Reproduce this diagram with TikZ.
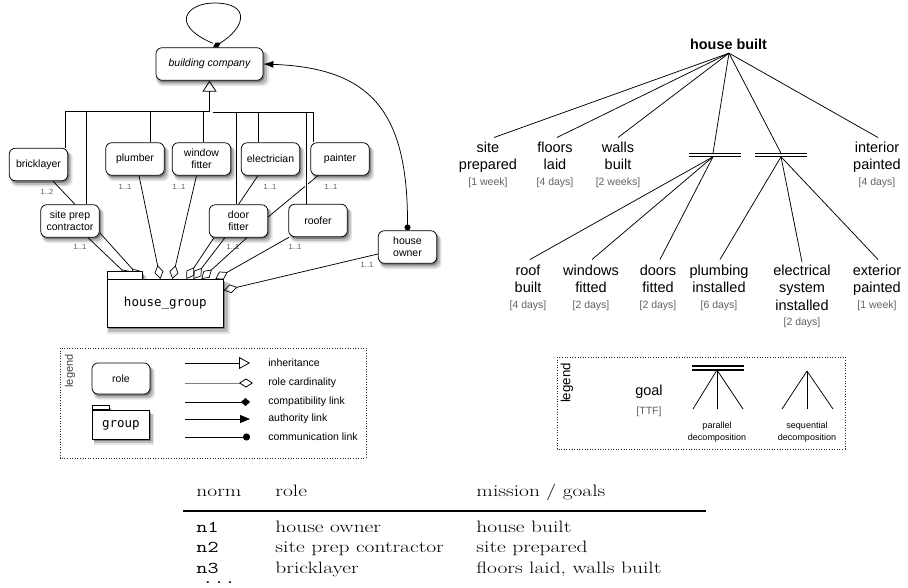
\documentclass[tikz,border=0pt]{standalone}
\usepackage{fontspec}
\newfontfamily\hv{Liberation Sans}
\newfontfamily\grpfont{DejaVu Sans Mono}
\usetikzlibrary{arrows.meta,shadows,calc}
\newcommand\setfs[2]{\fontsize{#1}{#2}\selectfont}
\definecolor{cardgray}{gray}{0.35}
\definecolor{ttfgray}{gray}{0.38}
\begin{document}
\begin{tikzpicture}[x=1pt,y=-1pt,line width=0.75pt,
  softshadow/.style={
    general shadow={fill=black,opacity=0.10,shadow xshift=3pt,shadow yshift=-4.5pt,shadow scale=1.06},
    general shadow={fill=black,opacity=0.18,shadow xshift=2.5pt,shadow yshift=-3.5pt,shadow scale=1.03},
    general shadow={fill=black,opacity=0.32,shadow xshift=1.5pt,shadow yshift=-2pt}},
  role/.style={draw,fill=white,rounded corners=6pt,align=center,inner sep=1pt,
    minimum width=58.5pt,minimum height=32.5pt,font=\hv\setfs{10.5}{12},softshadow},
  grpbody/.style={draw,fill=white,inner sep=0pt,font=\grpfont\setfs{12.5}{14},softshadow},
  grptab/.style={draw,fill=white,inner sep=0pt,softshadow},
  card/.style={font=\hv\setfs{7.5}{9},text=cardgray,inner sep=0pt},
  rolecard/.style={-{Diamond[open,length=14pt,width=9pt,line width=0.7pt]}},
  legendbox/.style={draw=black!85,line width=0.8pt,dash pattern=on 1pt off 1.6pt},
  legtext/.style={font=\hv\setfs{10.5}{12},inner sep=0pt,anchor=west},
  goal/.style={font=\hv\setfs{14.5}{17.5},align=center,anchor=north,inner sep=2pt},
  ttf/.style={font=\hv\setfs{10.5}{12},text=ttfgray,inner sep=0pt},
  decomp/.style={font=\hv\setfs{9}{12},align=center,inner sep=0pt},
  tabtext/.style={font=\rmfamily\setfs{16.5}{20},anchor=base west,inner sep=0pt,xscale=1.3},
  tabcode/.style={font=\ttfamily\setfs{16.5}{20},anchor=base west,inner sep=0pt,xscale=1.3}]
\useasboundingbox (0,0) rectangle (908,587);

% ---------------- organisational structure: roles ----------------
\node[role,minimum width=107pt,font=\hv\itshape\setfs{10.5}{12}] (bc) at (209.5,64) {building company};
\node[role] (brick) at (38.5,164.5) {bricklayer};
\node[role] (plumb) at (135,159) {plumber};
\node[role] (wfit) at (201.5,159) {window\\fitter};
\node[role] (elec) at (270.5,159) {electrician};
\node[role] (paint) at (340,159) {painter};
\node[role] (site) at (70,221) {site prep\\contractor};
\node[role] (door) at (238.5,221) {door\\fitter};
\node[role] (roof) at (318,220.5) {roofer};
\node[role] (owner) at (407.5,247) {house\\owner};

% group with its folder tab
\node[grptab,minimum width=35pt,minimum height=7pt,anchor=south west] (gtab) at (107,279) {};
\node[grpbody,minimum width=116pt,minimum height=48pt,anchor=north west] (grp) at (107,279) {house\_group};

% cardinalities
\node[card] at (47,192) {1..2};
\node[card] at (125,187) {1..1};
\node[card] at (179,187) {1..1};
\node[card] at (270,187) {1..1};
\node[card] at (331,187) {1..1};
\node[card] at (80,247) {1..1};
\node[card] at (233,247) {1..1};
\node[card] at (295,247) {1..1};
\node[card] at (367,265) {1..1};

% inheritance bus
\coordinate (hj) at (209.5,111);
\coordinate (busL) at (65,111);
\coordinate (bus2) at (86,111);
\coordinate (bus3) at (150,111);
\coordinate (bus4) at (203,111);
\coordinate (busR0) at (213,112);
\coordinate (bus5) at (236,112);
\coordinate (bus6) at (258,112);
\coordinate (bus7) at (306,112);
\coordinate (busR) at (313,112);
\draw[-{Triangle[open,length=11pt,width=14pt,line width=0.8pt]}] (hj) -- (bc.south);
\draw (busL) -- (hj);
\draw (busR0) -- (busR);
\draw (busL) -- (busL |- brick.north);
\draw (bus2) -- (bus2 |- site.north);
\draw (bus3) -- (bus3 |- plumb.north);
\draw (bus4) -- (bus4 |- wfit.north);
\draw (bus5) -- (bus5 |- door.north);
\draw (bus6) -- (bus6 |- elec.north);
\draw (busR) -- (busR |- paint.north);

% plain links between roles
\draw ([xshift=14.5pt]brick.south) -- ([xshift=5pt]site.north);
\draw ([xshift=-12.5pt]elec.south) -- (door.north);
\draw ([xshift=-22pt]paint.south) -- ([yshift=4pt]door.east);
\draw[white,line width=3pt] (bus7 |- 0,181) -- (bus7 |- 0,190);
\draw (bus7) -- (bus7 |- roof.north);

% role cardinality links into the group
\draw[rolecard] ([xshift=18pt]site.south) -- ([xshift=-34pt]grp.north);
\draw[rolecard] ([yshift=5pt]site.south east) -- ([xshift=-24pt]grp.north);
\draw[rolecard] ([xshift=4pt]plumb.south) -- ([xshift=-5pt]grp.north);
\draw[rolecard] ([xshift=-5pt]wfit.south) -- ([xshift=7pt]grp.north);
\draw[rolecard] ([xshift=-24.5pt]door.south) -- ([xshift=21pt]grp.north);
\draw[rolecard] ([xshift=-13.5pt]door.south) -- ([xshift=28pt]grp.north);
\draw[rolecard] ([xshift=8.5pt]door.south) -- ([xshift=36pt]grp.north);
\draw[rolecard] (roof.-150) -- ([xshift=50pt]grp.north);
\draw[rolecard] ([yshift=-7pt]owner.west) -- ([yshift=13pt]grp.east);
% the folder tab sits in front of the links that reach it
\draw[fill=white] (gtab.south west) rectangle (gtab.north east);

% compatibility loop on the company
\draw[-{Diamond[length=9pt,width=5.5pt]}] ([xshift=3.5pt,yshift=4pt]bc.north)
   .. controls (168,24) and (188,3) .. (214,3)
   .. controls (252,3) and (245,28) .. ([xshift=3.5pt]bc.north);
% communication / authority link from the owner
\draw[{Circle[length=6pt,width=6pt]}-{Latex[length=10pt,width=7pt]}] (owner.north)
   .. controls (408,110) and (370,68) .. (bc.east);

% ---------------- legend of the structure ----------------
\draw[legendbox] (60,348) rectangle (366,458);
\node[rotate=90,font=\hv\setfs{11}{12},text=black!75,inner sep=0pt] at (70,371) {legend};
\node[role,minimum width=58pt,minimum height=31pt] (lrole) at (121,378.5) {role};
\node[grptab,minimum width=17pt,minimum height=4pt,anchor=south west] (lgtab) at (92,410) {};
\node[grpbody,minimum width=57pt,minimum height=29pt,anchor=north west] (lgrp) at (92,410) {group};
\coordinate (l1a) at (185,363); \coordinate (l1b) at (250,363);
\coordinate (l2a) at (185,383); \coordinate (l2b) at (253,383);
\coordinate (l3a) at (185,402); \coordinate (l3b) at (250,402);
\coordinate (l4a) at (185,419); \coordinate (l4b) at (250,419);
\coordinate (l5a) at (185,437); \coordinate (l5b) at (250,437);
\draw[-{Triangle[open,length=11pt,width=12pt,line width=0.8pt]}] (l1a) -- (l1b);
\draw[gray,-{Diamond[open,length=14pt,width=9pt,black,line width=0.8pt]}] (l2a) -- (l2b);
\draw[-{Diamond[length=9pt,width=8pt]}] (l3a) -- (l3b);
\draw[-{Triangle[length=10pt,width=8pt]}] (l4a) -- (l4b);
\draw[-{Circle[length=7pt,width=7pt]}] (l5a) -- (l5b);
\node[legtext] at (268,363) {inheritance};
\node[legtext] at (268,383) {role cardinality};
\node[legtext] at (268,402) {compatibility link};
\node[legtext] at (268,419) {authority link};
\node[legtext] at (268,437) {communication link};

% ---------------- functional specification: goal tree ----------------
\node[font=\hv\bfseries\setfs{14.4}{17},inner sep=1pt] (hb) at (728.5,44) {house built};
\coordinate (hbroot) at ([xshift=0.5pt,yshift=-2.5pt]hb.south);

\node[goal] (gsp) at (488,139.5) {site\\prepared};
\node[goal] (gfl) at (555,139.5) {floors\\laid};
\node[goal] (gwb) at (618,139.5) {walls\\built};
\node[goal] (gip) at (877,139.5) {interior\\painted};
\node[ttf] at (488,182.5) {[1 week]};
\node[ttf] at (555,182.5) {[4 days]};
\node[ttf] at (618,182.5) {[2 weeks]};
\node[ttf] at (877,182.5) {[4 days]};

\node[goal] (grb) at (528,262.5) {roof\\built};
\node[goal] (gwf) at (591,262.5) {windows\\fitted};
\node[goal] (gdf) at (658,262.5) {doors\\fitted};
\node[goal] (gpi) at (719,262.5) {plumbing\\installed};
\node[goal] (ges) at (802,262.5) {electrical\\system\\installed};
\node[goal] (gep) at (877,262.5) {exterior\\painted};
\node[ttf] at (528,305.5) {[4 days]};
\node[ttf] at (591,305.5) {[2 days]};
\node[ttf] at (658,305.5) {[2 days]};
\node[ttf] at (719,305.5) {[6 days]};
\node[ttf] at (802,322.5) {[2 days]};
\node[ttf] at (877,305.5) {[1 week]};

% parallel decomposition bars
\coordinate (par1top) at (713,153.2);
\coordinate (par1) at (713,156.8);
\coordinate (par2top) at (781,153.2);
\coordinate (par2) at (781,156.8);
\draw[line width=1.1pt] ([xshift=-24pt]par1top) -- ([xshift=28pt]par1top);
\draw[line width=1.1pt] ([xshift=-24pt]par1) -- ([xshift=28pt]par1);
\draw[line width=1.1pt] ([xshift=-26pt]par2top) -- ([xshift=26pt]par2top);
\draw[line width=1.1pt] ([xshift=-26pt]par2) -- ([xshift=26pt]par2);

\draw (hbroot) -- ([xshift=6pt,yshift=2pt]gsp.north);
\draw (hbroot) -- ([xshift=2pt,yshift=2pt]gfl.north);
\draw (hbroot) -- ([yshift=2pt]gwb.north);
\draw (hbroot) -- (par1top);
\draw (hbroot) -- (par2top);
\draw (hbroot) -- ([xshift=1pt,yshift=2pt]gip.north);

\draw (par1) -- ([xshift=2pt,yshift=3pt]grb.north);
\draw (par1) -- ([xshift=1pt,yshift=3pt]gwf.north);
\draw (par1) -- ([xshift=2pt,yshift=3pt]gdf.north);
\draw (par2) -- ([xshift=1pt,yshift=3pt]gpi.north);
\draw (par2) -- ([yshift=0.5pt]ges.north);
\draw (par2) -- ([xshift=1pt,yshift=3pt]gep.north);

% ---------------- legend of the goal tree ----------------
\draw[legendbox] (557,357) rectangle (845,449);
\node[rotate=90,font=\hv\setfs{13.3}{15},inner sep=0pt] at (567,383) {legend};
\node[font=\hv\setfs{14.5}{17},inner sep=0pt] (lgoal) at (649,392) {goal};
\node[ttf] at (649,412) {[TTF]};
\coordinate (lpar) at (717,370);
\draw[line width=1.1pt] ([xshift=-25pt,yshift=4pt]lpar) -- ([xshift=27pt,yshift=4pt]lpar);
\draw[line width=1.1pt] ([xshift=-25pt]lpar) -- ([xshift=27pt]lpar);
\draw (lpar) -- ++(-24,39);
\draw (lpar) -- ++(0,39);
\draw (lpar) -- ++(26,39);
\node[decomp] at (717,432) {parallel\\decomposition};
\coordinate (lseq) at (807,371);
\draw (lseq) -- ++(-25,38);
\draw (lseq) -- ++(0,38);
\draw (lseq) -- ++(26,38);
\node[decomp] at (807,432) {sequential\\decomposition};

% ---------------- norms table ----------------
\node[tabtext] at (196,496) {norm};
\node[tabtext] at (275,496) {role};
\node[tabtext] at (476,496) {mission / goals};
\draw[line width=1.6pt] (183,511) -- (706,511);
\node[tabcode] at (196,532) {n1};
\node[tabtext] at (275,532) {house owner};
\node[tabtext] at (476,532) {house built};
\node[tabcode] at (196,552.5) {n2};
\node[tabtext] at (275,552.5) {site prep contractor};
\node[tabtext] at (476,552.5) {site prepared};
\node[tabcode] at (196,573) {n3};
\node[tabtext] at (275,573) {bricklayer};
\node[tabtext] at (476,573) {floors laid, walls built};
\node[tabcode,text height=2.5pt,text depth=0pt] at (202,583.5) {...};
\end{tikzpicture}
\end{document}
